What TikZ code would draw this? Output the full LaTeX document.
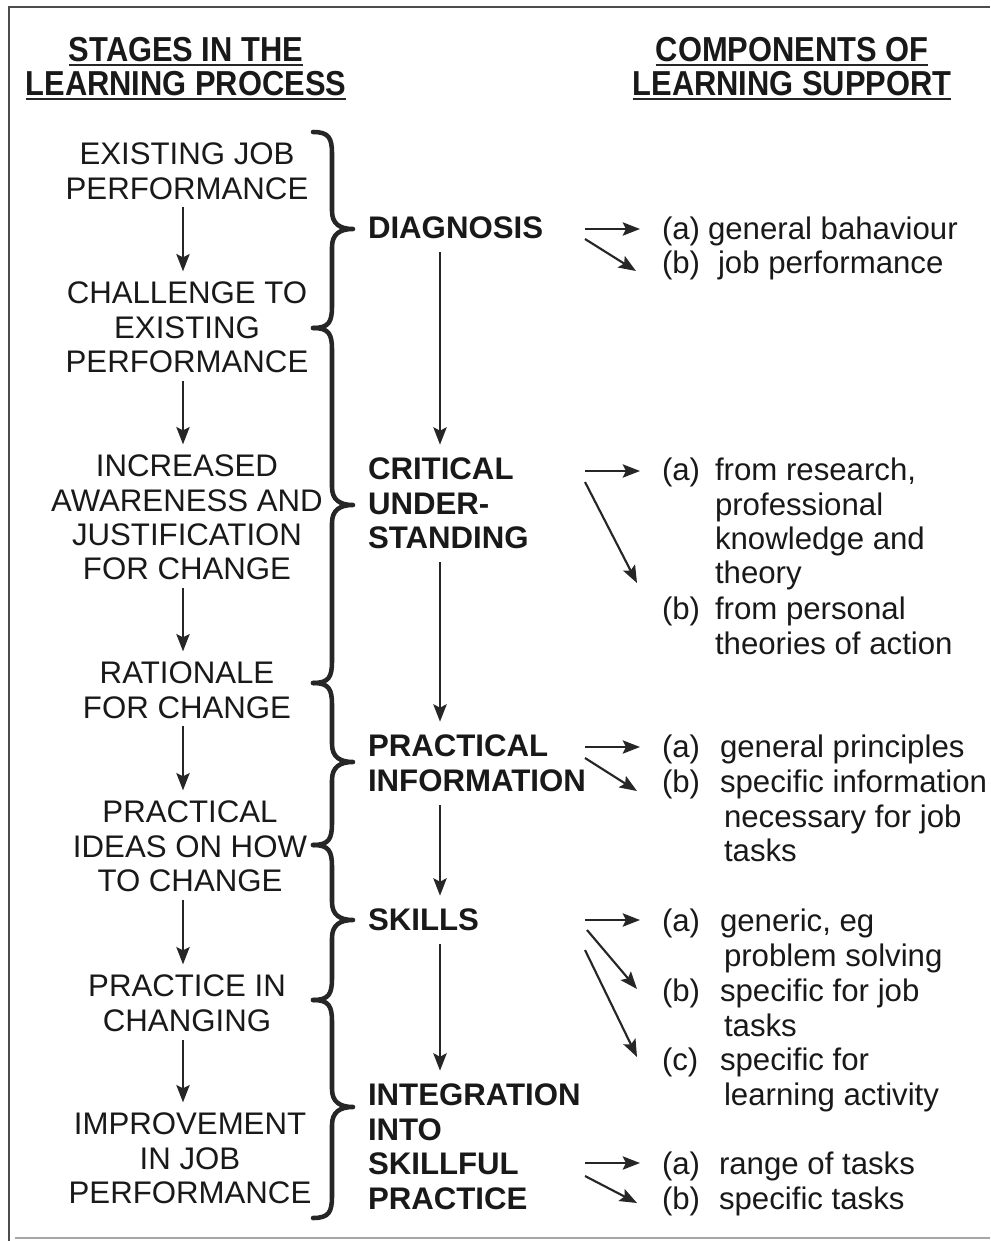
\documentclass[tikz,border=0pt]{standalone}
\usepackage{fontspec}
\setmainfont{Liberation Sans}
\newfontfamily\hdfont{Liberation Sans}[FakeStretch=0.89]
\usetikzlibrary{arrows.meta}

% one curly brace of the chain: top end, tip, bottom end (y values)
\newcommand\stagebrace[3]{%
  \draw[bracestyle] (313,#1) .. controls (329,#1) and (332,#1+6) .. (332,#1+22)
    -- (332,#2-18) .. controls (332,#2-5) and (340,#2) .. (353,#2)
    .. controls (340,#2) and (332,#2+5) .. (332,#2+18)
    -- (332,#3-22) .. controls (332,#3-6) and (329,#3) .. (313,#3);}

\begin{document}
\begin{tikzpicture}[x=0.75pt,y=-0.75pt,
  every node/.style={inner sep=0pt, outer sep=0pt, text=black!90},
  stage/.style={font=\fontsize{23.4pt}{25.8pt}\selectfont, align=center, anchor=north},
  comp/.style={font=\fontsize{23.4pt}{25.8pt}\selectfont\bfseries, align=left, anchor=north west},
  item/.style={font=\fontsize{23.4pt}{25.8pt}\selectfont, align=left, anchor=north west},
  head/.style={font=\hdfont\bfseries\fontsize{26pt}{30pt}\selectfont, anchor=base},
  uline/.style={line width=1.6pt, black!85},
  framestyle/.style={line width=1pt, black!70},
  bracestyle/.style={line width=3.4pt, black!85, line cap=round, line join=round},
  tip/.style={-{Stealth[length=13pt,width=10pt,inset=2.5pt]}},
  varr/.style={tip, line width=1.4pt, black!85, shorten <=6pt, shorten >=8pt},
  marr/.style={tip, line width=1.5pt, black!85, shorten <=10pt, shorten >=10pt},
  rarr/.style={tip, line width=1.6pt, black!85}
]
\useasboundingbox (0,0) rectangle (990,1241);
\fill[white] (0,0) rectangle (990,1241);

% frame
\draw[framestyle] (9,1241) -- (9,7) -- (990,7);
\draw[line width=0.8pt, black!35] (15,1238) -- (990,1238);

% column headings
\node[head] (h1) at (186,62) {STAGES IN THE};
\node[head] (h2) at (186,96) {LEARNING PROCESS};
\node[head] (h3) at (792,62) {COMPONENTS OF};
\node[head] (h4) at (792,96) {LEARNING SUPPORT};
\foreach \h in {h1,h2,h3,h4}
  \draw[uline] ([yshift=-2pt]\h.base west) -- ([yshift=-2pt]\h.base east);

% stages in the learning process
\node[stage] (s1) at (187,143) {EXISTING JOB\\PERFORMANCE};
\node[stage] (s2) at (187,282) {CHALLENGE TO\\EXISTING\\PERFORMANCE};
\node[stage] (s3) at (187,455) {INCREASED\\AWARENESS AND\\JUSTIFICATION\\FOR CHANGE};
\node[stage] (s4) at (187,662) {RATIONALE\\FOR CHANGE};
\node[stage] (s5) at (190,801) {PRACTICAL\\IDEAS ON HOW\\TO CHANGE};
\node[stage] (s6) at (187,975) {PRACTICE IN\\CHANGING};
\node[stage] (s7) at (190,1113) {IMPROVEMENT\\IN JOB\\PERFORMANCE};

\coordinate (lx) at (183,0);
\foreach \a/\b in {s1/s2,s2/s3,s3/s4,s4/s5,s5/s6,s6/s7}
  \draw[varr] (\a.south -| lx) -- (\b.north -| lx);

% braces grouping the stages
\stagebrace{132}{229}{328}
\stagebrace{328}{505}{683}
\stagebrace{683}{762}{845}
\stagebrace{845}{920}{1000}
\stagebrace{1000}{1107}{1218}

% components of learning support
\node[comp] (c1) at (368,217) {DIAGNOSIS};
\node[comp] (c2) at (368,458) {CRITICAL\\UNDER-\\STANDING};
\node[comp] (c3) at (368,735) {PRACTICAL\\INFORMATION};
\node[comp] (c4) at (368,909) {SKILLS};
\node[comp] (c5) at (368,1084) {INTEGRATION\\INTO\\SKILLFUL\\PRACTICE};

\coordinate (mx) at (440,0);
\foreach \a/\b in {c1/c2,c2/c3,c3/c4,c4/c5}
  \draw[marr] (\a.south -| mx) -- (\b.north -| mx);

% details: diagnosis
\node[item] (d-a) at (662,217) {(a)};
\node[item] (d-at) at (708,217) {general bahaviour};
\node[item] (d-b) at (662,251) {(b)};
\node[item] (d-bt) at (718,251) {job performance};
% critical understanding
\node[item] (u-a) at (662,458) {(a)};
\node[item] (u-at) at (715,458) {from research,\\professional\\knowledge and\\theory};
\node[item] (u-b) at (662,597) {(b)};
\node[item] (u-bt) at (715,597) {from personal\\theories of action};
% practical information
\node[item] (p-a) at (662,735) {(a)};
\node[item] (p-at) at (720,735) {general principles};
\node[item] (p-b) at (662,770) {(b)};
\node[item] (p-bt) at (720,770) {specific information\\\hspace*{3pt}necessary for job\\\hspace*{3pt}tasks};
% skills
\node[item] (k-a) at (662,909) {(a)};
\node[item] (k-at) at (720,909) {generic, eg\\\hspace*{3pt}problem solving};
\node[item] (k-b) at (662,979) {(b)};
\node[item] (k-bt) at (720,979) {specific for job\\\hspace*{3pt}tasks};
\node[item] (k-c) at (662,1048) {(c)};
\node[item] (k-ct) at (720,1048) {specific for\\\hspace*{3pt}learning activity};
% integration
\node[item] (i-a) at (662,1152) {(a)};
\node[item] (i-at) at (719,1152) {range of tasks};
\node[item] (i-b) at (662,1187) {(b)};
\node[item] (i-bt) at (719,1187) {specific tasks};

% arrows out to the details
\coordinate (d0) at (585,229);  \coordinate (d1) at (640,229);
\coordinate (d2) at (585,239);  \coordinate (d3) at (636,271);
\coordinate (u0) at (585,471);  \coordinate (u1) at (640,471);
\coordinate (u2) at (585,482);  \coordinate (u3) at (637,583);
\coordinate (p0) at (585,747);  \coordinate (p1) at (640,747);
\coordinate (p2) at (585,758);  \coordinate (p3) at (637,791);
\coordinate (k0) at (585,920);  \coordinate (k1) at (640,920);
\coordinate (k2) at (587,930);  \coordinate (k3) at (637,989);
\coordinate (k4) at (585,950);  \coordinate (k5) at (637,1057);
\coordinate (i0) at (585,1163); \coordinate (i1) at (640,1163);
\coordinate (i2) at (585,1176); \coordinate (i3) at (637,1203);
\foreach \a/\b in {d0/d1,d2/d3,u0/u1,u2/u3,p0/p1,p2/p3,k0/k1,k2/k3,k4/k5,i0/i1,i2/i3}
  \draw[rarr] (\a) -- (\b);
\end{tikzpicture}
\end{document}
